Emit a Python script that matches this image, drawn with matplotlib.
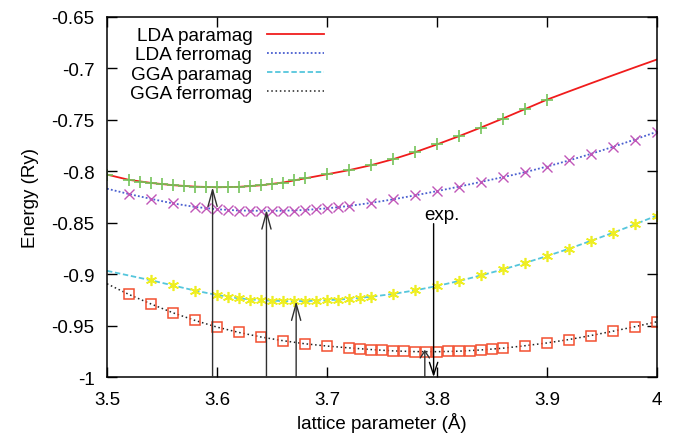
import matplotlib
matplotlib.use("Agg")
import matplotlib.pyplot as plt
from matplotlib.ticker import FuncFormatter

plt.rcParams['font.family'] = ['Liberation Sans', 'DejaVu Sans']
plt.rcParams['axes.unicode_minus'] = False

# fitted curves on a 0.02 grid
a_grid = [3.50, 3.52, 3.54, 3.56, 3.58, 3.60, 3.62, 3.64, 3.66, 3.68, 3.70, 3.72, 3.74,
          3.76, 3.78, 3.80, 3.82, 3.84, 3.86, 3.88, 3.90, 3.92, 3.94, 3.96, 3.98, 4.00]
lda_para_fit = [-0.8033, -0.8084, -0.8114, -0.8136, -0.8150, -0.8156, -0.8152, -0.8137, -0.8110,
                -0.8070, -0.8030, -0.7990, -0.7942, -0.7884, -0.7816, -0.7740, -0.7660, -0.7576,
                -0.7488, -0.7397, -0.7305, -0.7225, -0.7146, -0.7068, -0.6991, -0.6915]
lda_ferro_fit = [-0.8170, -0.8222, -0.8269, -0.8313, -0.8347, -0.8370, -0.8382, -0.8385, -0.8384,
                 -0.8377, -0.8361, -0.8338, -0.8308, -0.8274, -0.8235, -0.8194, -0.8150, -0.8104,
                 -0.8058, -0.8010, -0.7955, -0.7896, -0.7832, -0.7764, -0.7692, -0.7617]
gga_para_fit = [-0.8968, -0.9014, -0.9060, -0.9110, -0.9160, -0.9203, -0.9236, -0.9254, -0.9262,
                -0.9262, -0.9254, -0.9241, -0.9220, -0.9193, -0.9158, -0.9116, -0.9067, -0.9013,
                -0.8955, -0.8892, -0.8825, -0.8754, -0.8677, -0.8599, -0.8517, -0.8431]
gga_ferro_fit = [-0.9094, -0.9198, -0.9290, -0.9376, -0.9450, -0.9515, -0.9567, -0.9611, -0.9647,
                 -0.9677, -0.9699, -0.9717, -0.9733, -0.9746, -0.9753, -0.9754, -0.9749, -0.9737,
                 -0.9720, -0.9696, -0.9669, -0.9636, -0.9597, -0.9555, -0.9511, -0.9463]

# calculated points
lda_para_a = [3.50, 3.52, 3.53, 3.54, 3.55, 3.56, 3.57, 3.58, 3.59, 3.60, 3.61, 3.62, 3.63, 3.64,
              3.65, 3.66, 3.67, 3.68, 3.70, 3.72, 3.74, 3.76, 3.78, 3.80, 3.82, 3.84, 3.86, 3.88, 3.90]
lda_para_e = [-0.8033, -0.8084, -0.8101, -0.8114, -0.8126, -0.8136, -0.8145, -0.8150, -0.8154,
              -0.8156, -0.8155, -0.8152, -0.8147, -0.8137, -0.8125, -0.8110, -0.8090, -0.8070,
              -0.8030, -0.7990, -0.7942, -0.7884, -0.7816, -0.7740, -0.7660, -0.7576, -0.7488,
              -0.7397, -0.7305]

lda_ferro_a = [3.52, 3.54, 3.56, 3.58, 3.59, 3.60, 3.61, 3.62, 3.63, 3.64, 3.65, 3.66, 3.67, 3.68,
               3.69, 3.70, 3.71, 3.72, 3.74, 3.76, 3.78, 3.80, 3.82, 3.84, 3.86, 3.88, 3.90, 3.92,
               3.94, 3.96, 3.98, 4.00]
lda_ferro_e = [-0.8222, -0.8269, -0.8313, -0.8347, -0.8359, -0.8370, -0.8377, -0.8382, -0.8384,
               -0.8385, -0.8385, -0.8384, -0.8382, -0.8377, -0.8370, -0.8361, -0.8350, -0.8338,
               -0.8308, -0.8274, -0.8235, -0.8194, -0.8150, -0.8104, -0.8058, -0.8010, -0.7955,
               -0.7896, -0.7832, -0.7764, -0.7692, -0.7617]

gga_para_a = [3.54, 3.56, 3.58, 3.60, 3.61, 3.62, 3.63, 3.64, 3.65, 3.66, 3.67, 3.68, 3.69, 3.70,
              3.71, 3.72, 3.73, 3.74, 3.76, 3.78, 3.80, 3.82, 3.84, 3.86, 3.88, 3.90, 3.92, 3.94,
              3.96, 3.98, 4.00]
gga_para_e = [-0.9060, -0.9110, -0.9160, -0.9203, -0.9222, -0.9236, -0.9247, -0.9254, -0.9259,
              -0.9262, -0.9263, -0.9262, -0.9259, -0.9254, -0.9248, -0.9241, -0.9231, -0.9220,
              -0.9193, -0.9158, -0.9116, -0.9067, -0.9013, -0.8955, -0.8892, -0.8825, -0.8754,
              -0.8677, -0.8599, -0.8517, -0.8431]

gga_ferro_a = [3.52, 3.54, 3.56, 3.58, 3.60, 3.62, 3.64, 3.66, 3.68, 3.70, 3.72, 3.73, 3.74, 3.75,
               3.76, 3.77, 3.78, 3.79, 3.80, 3.81, 3.82, 3.83, 3.84, 3.85, 3.86, 3.88, 3.90, 3.92,
               3.94, 3.96, 3.98, 4.00]
gga_ferro_e = [-0.9198, -0.9290, -0.9376, -0.9450, -0.9515, -0.9567, -0.9611, -0.9647, -0.9677,
               -0.9699, -0.9717, -0.9726, -0.9733, -0.9741, -0.9746, -0.9750, -0.9753, -0.9754,
               -0.9754, -0.9752, -0.9749, -0.9744, -0.9737, -0.9729, -0.9720, -0.9696, -0.9669,
               -0.9636, -0.9597, -0.9555, -0.9511, -0.9463]

# equilibrium lattice parameters (arrows) and experiment
min_a = [3.596, 3.645, 3.672, 3.789]
min_e = [-0.8155, -0.8375, -0.9262, -0.9735]
exp_a = 3.797
exp_top = -0.851

fig = plt.figure(figsize=(6.73, 4.35), dpi=100)
ax = fig.add_axes([0.159, 0.131, 0.817, 0.828])

ax.plot(a_grid, lda_para_fit, color='#f01c1c', lw=1.3, ls='-', label='LDA paramag')
ax.plot(a_grid, lda_ferro_fit, color='#4a5fd0', lw=1.3, ls=(0, (1, 1.2)), label='LDA ferromag')
ax.plot(a_grid, gga_para_fit, color='#55c6dc', lw=1.3, ls=(0, (3, 1.5)), label='GGA paramag')
ax.plot(a_grid, gga_ferro_fit, color='#222222', lw=1.1, ls=(0, (1, 1.8)), label='GGA ferromag')

ax.plot(lda_para_a, lda_para_e, ls='none', marker='+', ms=8.5, mew=1.2, color='#74c45a')
ax.plot(lda_ferro_a, lda_ferro_e, ls='none', marker='x', ms=7, mew=1.0, color='#c056b8')
ax.plot(gga_para_a, gga_para_e, ls='none', marker=(6, 2, 0), ms=8, mew=1.2, color='#eeee22')
ax.plot(gga_ferro_a, gga_ferro_e, ls='none', marker='s', ms=7.5, mew=1.1, mfc='none', color='#f25030')

for i in range(len(min_a)):
    hl = 1.2 if i < 3 else 0.5
    ax.annotate('', xy=(min_a[i], min_e[i]), xytext=(min_a[i], -1.0),
                arrowprops=dict(arrowstyle='->,head_length=%g,head_width=0.33' % hl,
                                color='#303030', lw=1.0, shrinkA=0, shrinkB=0))
ax.annotate('', xy=(exp_a, -1.0), xytext=(exp_a, exp_top),
            arrowprops=dict(arrowstyle='->,head_length=0.9,head_width=0.3',
                            color='black', lw=1.0, shrinkA=0, shrinkB=0))
ax.text(exp_a + 0.008, exp_top + 0.001, 'exp.', ha='center', va='bottom', fontsize=13.5)

ax.set_xlim(3.5, 4.0)
ax.set_ylim(-1.0, -0.65)
ax.set_xticks([3.5, 3.6, 3.7, 3.8, 3.9, 4.0])
ax.set_yticks([-1.0, -0.95, -0.9, -0.85, -0.8, -0.75, -0.7, -0.65])
fmt = FuncFormatter(lambda v, p: '%g' % round(v, 3))
ax.xaxis.set_major_formatter(fmt)
ax.yaxis.set_major_formatter(fmt)
ax.tick_params(direction='in', length=7, width=1, top=True, right=True, labelsize=13.5)
ax.tick_params(axis='x', pad=10)
ax.tick_params(axis='y', pad=9)
for s in ax.spines.values():
    s.set_linewidth(1.1)

ax.set_xlabel('lattice parameter (Å)', fontsize=13.5, labelpad=3)
ax.set_ylabel('Energy (Ry)', fontsize=13.5, labelpad=9)

leg = ax.legend(loc='upper left', bbox_to_anchor=(0.042, 0.972), frameon=False,
                markerfirst=False, fontsize=13.7, handlelength=3.0, handletextpad=0.75,
                labelspacing=0.1, borderpad=0, borderaxespad=0)
# right-align legend texts like gnuplot
leg._legend_box.get_children()[1].get_children()[0].align = 'right'

fig.savefig('out.png', dpi=100)
